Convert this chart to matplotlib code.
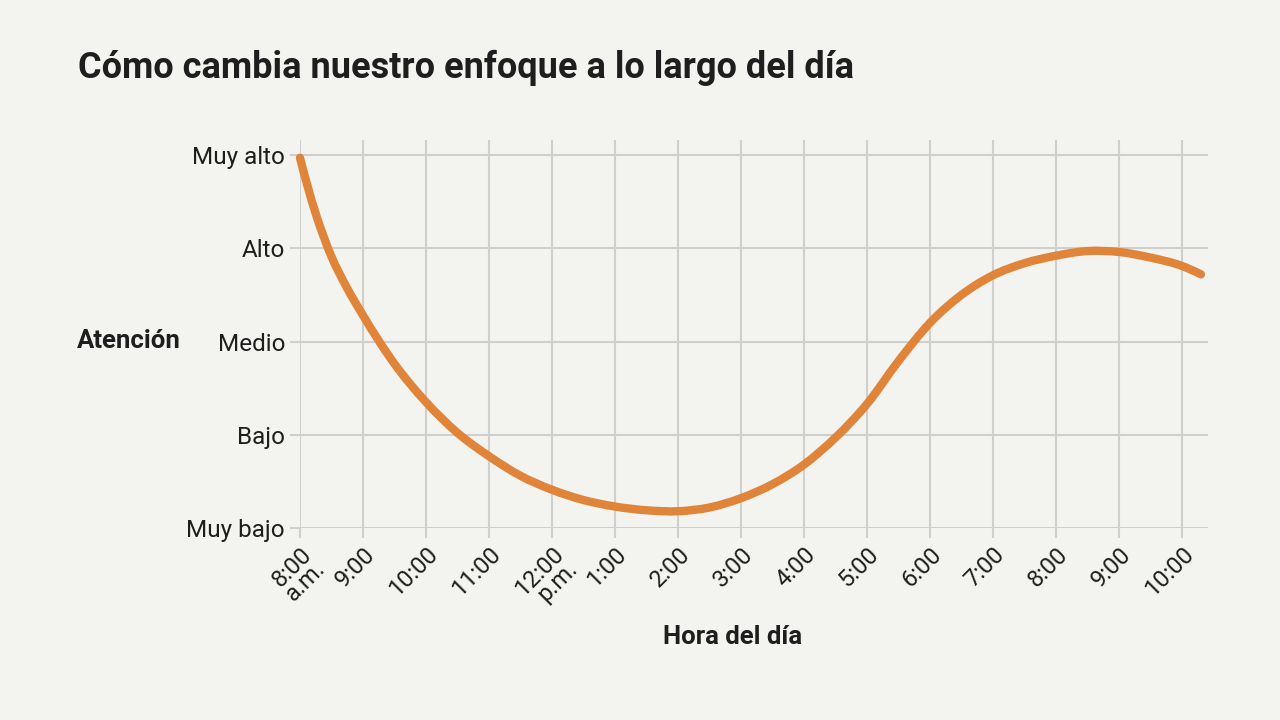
import matplotlib
matplotlib.use("Agg")
import matplotlib.pyplot as plt
from matplotlib.path import Path
from matplotlib.patches import PathPatch
from matplotlib.transforms import ScaledTranslation

# ---- data ----
hours = [8.0, 8.25, 8.5, 8.75, 9.0, 9.5, 10.0, 10.5, 11.0, 11.5, 12.0, 12.5, 13.0,
         13.5, 14.0, 14.5, 15.0, 15.5, 16.0, 16.5, 17.0, 17.5, 18.0, 18.5, 19.0,
         19.5, 20.0, 20.5, 21.0, 21.5, 22.0, 22.3]
attention = [4.97, 4.37, 3.91, 3.57, 3.28, 2.76, 2.35, 2.02, 1.77, 1.56, 1.41, 1.30, 1.23,
             1.19, 1.18, 1.22, 1.32, 1.47, 1.68, 1.97, 2.33, 2.79, 3.20, 3.50, 3.71,
             3.84, 3.92, 3.97, 3.96, 3.90, 3.81, 3.72]

x_ticks = list(range(8, 23))
x_labels = ["8:00\na.m.", "9:00", "10:00", "11:00", "12:00\np.m.", "1:00", "2:00",
            "3:00", "4:00", "5:00", "6:00", "7:00", "8:00", "9:00", "10:00"]
y_ticks = [1, 2, 3, 4, 5]
y_labels = ["Muy bajo", "Bajo", "Medio", "Alto", "Muy alto"]

title = "Cómo cambia nuestro enfoque a lo largo del día"
x_title = "Hora del día"
y_title = "Atención"

bg = "#f3f3f0"
line_color = "#e0843a"
grid_color = "#cfcfcd"
text_color = "#1e1e1e"

plt.rcParams['font.family'] = ['Roboto', 'DejaVu Sans']

fig = plt.figure(figsize=(12.8, 7.2), dpi=100, facecolor=bg)
ax = fig.add_axes([300/1280, 1 - 528/720, (1208 - 300)/1280, (528 - 140)/720])
ax.set_facecolor(bg)

ax.set_xlim(8, 8 + (1208 - 300) / 63.0)
ax.set_ylim(1, 5 + 15 / 93.2)

ax.set_xticks(x_ticks)
ax.set_yticks(y_ticks)
ax.set_yticklabels(y_labels, fontsize=17.5, color=text_color)
ax.set_xticklabels(x_labels, fontsize=17, color=text_color, rotation=45,
                   ha="right", rotation_mode="anchor", linespacing=0.8)
offset = ScaledTranslation(7/100, 0, fig.dpi_scale_trans)
for lab in ax.get_xticklabels():
    lab.set_transform(lab.get_transform() + offset)

ax.grid(True, color=grid_color, linewidth=1.5)
ax.tick_params(axis="both", length=7.2, width=1.5, color=grid_color)
ax.tick_params(axis="y", pad=3.6)
ax.tick_params(axis="x", pad=3.5)
for s in ax.spines.values():
    s.set_visible(False)
ax.set_axisbelow(True)

# smooth curve through the read points (cubic Hermite -> Bezier path)
n = len(hours)
d = [(attention[i + 1] - attention[i]) / (hours[i + 1] - hours[i]) for i in range(n - 1)]
hs = [hours[i + 1] - hours[i] for i in range(n - 1)]
slopes = [0.0] * n
for i in range(1, n - 1):
    slopes[i] = (hs[i] * d[i - 1] + hs[i - 1] * d[i]) / (hs[i - 1] + hs[i])
slopes[0] = 2 * d[0] - slopes[1]
slopes[-1] = 2 * d[-1] - slopes[-2]
verts = [(hours[0], attention[0])]
codes = [Path.MOVETO]
for i in range(n - 1):
    h = hs[i]
    verts.append((hours[i] + h / 3, attention[i] + slopes[i] * h / 3))
    verts.append((hours[i + 1] - h / 3, attention[i + 1] - slopes[i + 1] * h / 3))
    verts.append((hours[i + 1], attention[i + 1]))
    codes += [Path.CURVE4] * 3
patch = PathPatch(Path(verts, codes), facecolor="none", edgecolor=line_color,
                  linewidth=6, capstyle="round", joinstyle="round", clip_on=False, zorder=3)
ax.add_patch(patch)

fig.text(78/1280, 1 - 68/720, title, fontsize=26, fontweight="bold", color=text_color,
         ha="left", va="center")
fig.text(77/1280, 1 - 341/720, y_title, fontsize=18.5, fontweight="bold", color=text_color,
         ha="left", va="center")
fig.text(733/1280, 1 - 637/720, x_title, fontsize=18.5, fontweight="bold", color=text_color,
         ha="center", va="center")

fig.savefig("out.png", dpi=100, facecolor=bg)
